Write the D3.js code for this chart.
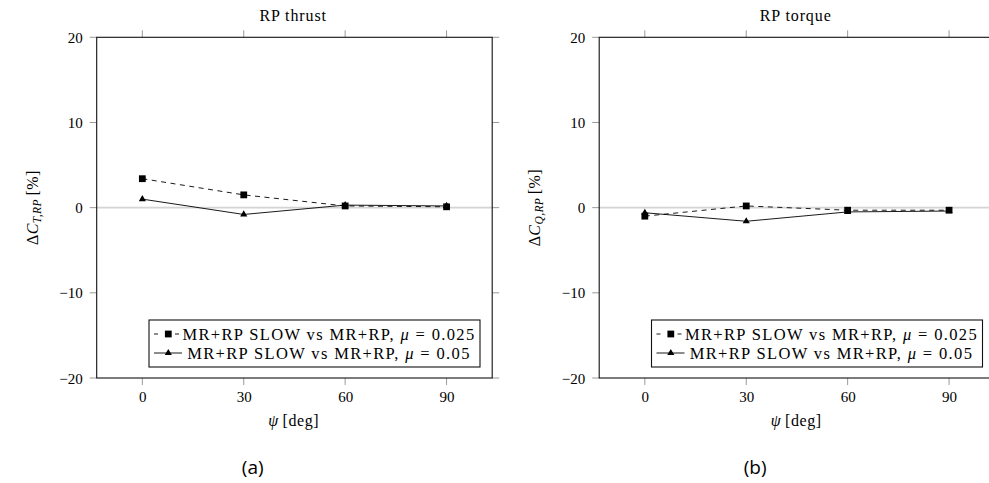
<!DOCTYPE html>
<html>
<head>
<meta charset="utf-8">
<script src="https://cdn.jsdelivr.net/npm/d3@7"></script>
<style>
  html, body { margin: 0; padding: 0; background: #fff; }
  svg { display: block; }
  text { font-family: 'Liberation Serif', 'DejaVu Serif', serif; fill: #000; }
</style>
</head>
<body>
<svg id="fig" width="989" height="483"></svg>
<script>
// Azimuth positions and percentage differences (SLOW vs baseline)
const psi = [0, 30, 60, 90];
const xTicks = [0, 30, 60, 90];
const yTicks = [-20, -10, 0, 10, 20];

const thrustMu025 = [3.4, 1.5, 0.2, 0.1];
const thrustMu05 = [1.0, -0.8, 0.3, 0.2];
const torqueMu025 = [-1.0, 0.2, -0.3, -0.3];
const torqueMu05 = [-0.6, -1.6, -0.5, -0.4];

const seriesNames = [
  "MR+RP SLOW vs MR+RP, ",
  "MR+RP SLOW vs MR+RP, "
];
const muValues = ["0.025", "0.05"];

const panelTitles = ["RP thrust", "RP torque"];
const panelTags = ["(a)", "(b)"];
const ySubs = ["T,RP", "Q,RP"];

const SERIF = "'Liberation Serif', 'DejaVu Serif', serif";
const svg = d3.select("#fig");

const plotW = 395.5, plotH = 340.7, plotTop = 37.3;
const panelLefts = [96.7, 599.2];

function drawPanel(idx, s025, s05) {
  const L = panelLefts[idx];
  const g = svg.append("g").attr("transform", `translate(${L},${plotTop})`);

  const x = d3.scaleLinear().domain([-13.5, 103.5]).range([0, plotW]);
  const y = d3.scaleLinear().domain([-20, 20]).range([plotH, 0]);

  // zero reference line
  g.append("line")
    .attr("x1", 0).attr("x2", plotW)
    .attr("y1", y(0)).attr("y2", y(0))
    .attr("stroke", "#d4d4d4").attr("stroke-width", 1.8);

  // outward ticks on all four sides
  const tickLen = 7, tickCol = "#9a9a9a";
  xTicks.forEach(t => {
    g.append("line").attr("x1", x(t)).attr("x2", x(t))
      .attr("y1", plotH).attr("y2", plotH + tickLen)
      .attr("stroke", tickCol).attr("stroke-width", 1);
    g.append("line").attr("x1", x(t)).attr("x2", x(t))
      .attr("y1", 0).attr("y2", -tickLen)
      .attr("stroke", tickCol).attr("stroke-width", 1);
  });
  yTicks.forEach(t => {
    g.append("line").attr("x1", -tickLen).attr("x2", 0)
      .attr("y1", y(t)).attr("y2", y(t))
      .attr("stroke", tickCol).attr("stroke-width", 1);
    g.append("line").attr("x1", plotW).attr("x2", plotW + tickLen)
      .attr("y1", y(t)).attr("y2", y(t))
      .attr("stroke", tickCol).attr("stroke-width", 1);
  });

  // axes via d3 for the tick labels
  const xAxis = d3.axisBottom(x).tickValues(xTicks).tickSize(0).tickPadding(0)
    .tickFormat(d3.format("d"));
  const xa = g.append("g").attr("transform", `translate(0,${plotH})`).call(xAxis)
    .attr("font-family", SERIF).attr("font-size", 15);
  xa.select(".domain").remove();
  xa.selectAll("text")
    .attr("y", 24).attr("dy", null)
    .style("font-family", SERIF)
    .style("font-size", "15px").attr("fill", "#000");

  const yAxis = d3.axisLeft(y).tickValues(yTicks).tickSize(0).tickPadding(0)
    .tickFormat(d => d < 0 ? "\u2212" + Math.abs(d) : String(d));
  const ya = g.append("g").call(yAxis)
    .attr("font-family", SERIF).attr("font-size", 15);
  ya.select(".domain").remove();
  ya.selectAll("text")
    .attr("x", -14).attr("dy", "0.34em")
    .style("font-family", SERIF)
    .style("font-size", "15px").attr("fill", "#000");

  // data lines
  const line = d3.line().x((d, i) => x(psi[i])).y(d => y(d));
  g.append("path").datum(s025).attr("d", line)
    .attr("fill", "none").attr("stroke", "#000").attr("stroke-width", 0.9)
    .attr("stroke-dasharray", "5,4.5");
  g.append("path").datum(s05).attr("d", line)
    .attr("fill", "none").attr("stroke", "#000").attr("stroke-width", 0.9);

  const sq = d3.symbol().type(d3.symbolSquare).size(46);
  const tri = d3.symbol().type(d3.symbolTriangle).size(22);
  g.selectAll(".tri").data(s05).enter().append("path")
    .attr("d", tri)
    .attr("transform", (d, i) => `translate(${x(psi[i])},${y(d)})`)
    .attr("fill", "#000");
  g.selectAll(".sq").data(s025).enter().append("path")
    .attr("d", sq)
    .attr("transform", (d, i) => `translate(${x(psi[i])},${y(d)})`)
    .attr("fill", "#000");

  // frame
  g.append("rect").attr("x", 0).attr("y", 0)
    .attr("width", plotW).attr("height", plotH)
    .attr("fill", "none").attr("stroke", "#111").attr("stroke-width", 1.1);

  // title
  svg.append("text")
    .attr("x", L + 196.5).attr("y", 21)
    .attr("text-anchor", "middle")
    .style("font-family", SERIF)
    .style("font-size", "16px").style("letter-spacing", "0.9px")
    .text(panelTitles[idx]);

  // x label
  const xl = svg.append("text")
    .attr("x", L + 197).attr("y", 426)
    .attr("text-anchor", "middle")
    .style("font-family", SERIF)
    .style("font-size", "16px").style("letter-spacing", "0.6px");
  xl.append("tspan").style("font-style", "italic").text("\u03C8");
  xl.append("tspan").text("\u2009[deg]");

  // y label (rotated)
  const yl = svg.append("text")
    .attr("transform", `translate(${L - 59},${plotTop + plotH / 2}) rotate(-90)`)
    .attr("text-anchor", "middle")
    .style("font-family", SERIF)
    .style("font-size", "16px").style("letter-spacing", "0.4px");
  yl.append("tspan").text("\u0394");
  yl.append("tspan").style("font-style", "italic").text("C");
  yl.append("tspan").style("font-style", "italic").style("font-size", "11.5px")
    .attr("dy", 3).text(ySubs[idx]);
  yl.append("tspan").attr("dy", -3).text("\u2009[%]");

  // legend
  const lx = 52.3, ly = 282.7, lw = 331, lh = 47;
  const lg = g.append("g").attr("transform", `translate(${lx},${ly})`);
  lg.append("rect").attr("width", lw).attr("height", lh)
    .attr("fill", "#fff").attr("stroke", "#111").attr("stroke-width", 1.1);

  const rows = [14, 33];
  // row 1: dashed with square
  lg.append("line").attr("x1", 5).attr("x2", 30)
    .attr("y1", rows[0]).attr("y2", rows[0])
    .attr("stroke", "#000").attr("stroke-width", 0.9)
    .attr("stroke-dasharray", "4,17");
  lg.append("path").attr("d", sq)
    .attr("transform", `translate(${19.3},${rows[0]})`).attr("fill", "#000");
  // row 2: solid with triangle
  lg.append("line").attr("x1", 5).attr("x2", 33)
    .attr("y1", rows[1]).attr("y2", rows[1])
    .attr("stroke", "#000").attr("stroke-width", 0.9);
  lg.append("path").attr("d", tri)
    .attr("transform", `translate(${19.3},${rows[1]})`).attr("fill", "#000");

  [0, 1].forEach(k => {
    const t = lg.append("text")
      .attr("x", 180).attr("y", rows[k] + 5.5)
      .attr("text-anchor", "middle")
      .style("font-family", SERIF)
      .style("font-size", "16.5px").style("letter-spacing", "1.35px");
    t.append("tspan").text(seriesNames[k]);
    t.append("tspan").style("font-style", "italic").text("\u03BC");
    t.append("tspan").text(" = " + muValues[k]);
  });

  // subfigure tag
  svg.append("text")
    .attr("x", L + 156).attr("y", 474)
    .attr("text-anchor", "middle")
    .style("font-family", "'Open Sans', sans-serif")
    .style("font-size", "19px")
    .text(panelTags[idx]);
}

drawPanel(0, thrustMu025, thrustMu05);
drawPanel(1, torqueMu025, torqueMu05);
</script>
</body>
</html>
